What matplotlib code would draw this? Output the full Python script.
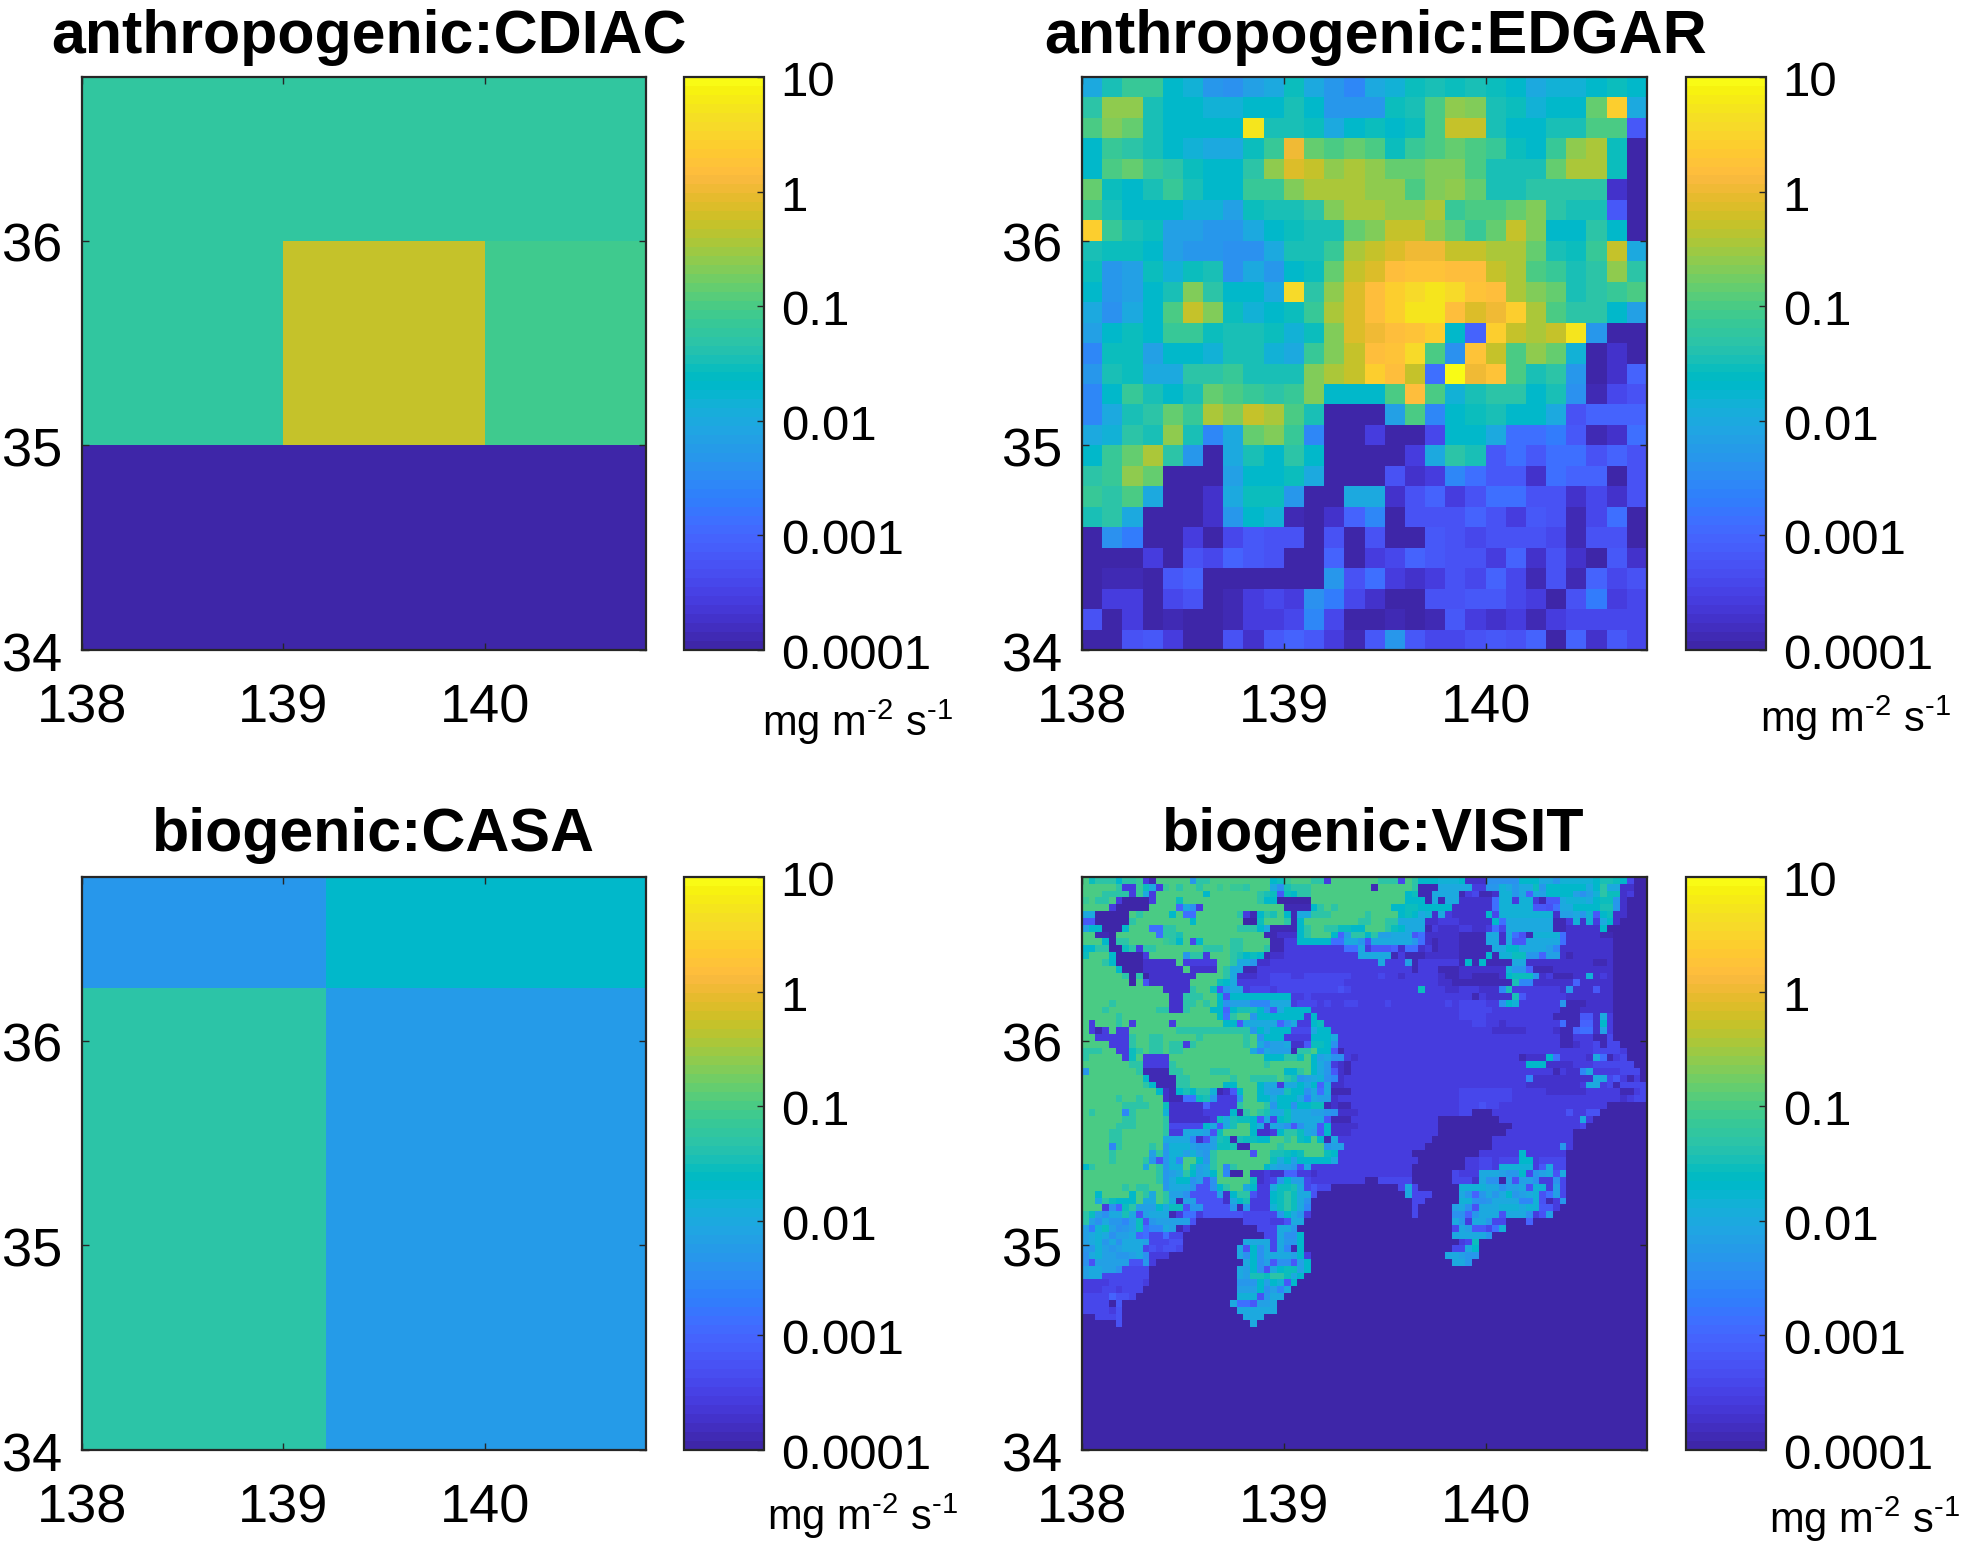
import matplotlib
matplotlib.use("Agg")
import matplotlib.pyplot as plt
import matplotlib.transforms as mtrans
import numpy as np
from matplotlib.colors import ListedColormap, LogNorm

W, H = 1961, 1545
plt.rcParams["font.family"] = ["Liberation Sans", "DejaVu Sans"]
plt.rcParams["mathtext.fontset"] = "custom"
plt.rcParams["mathtext.rm"] = "Liberation Sans"
plt.rcParams["mathtext.default"] = "regular"

# matlab parula, 64 steps
parula = [
    (0.2422, 0.1504, 0.6603), (0.2504, 0.1650, 0.7076), (0.2578, 0.1818, 0.7511), (0.2647, 0.1978, 0.7952),
    (0.2706, 0.2147, 0.8364), (0.2751, 0.2342, 0.8710), (0.2783, 0.2559, 0.8991), (0.2803, 0.2782, 0.9221),
    (0.2813, 0.3006, 0.9414), (0.2810, 0.3228, 0.9579), (0.2795, 0.3447, 0.9717), (0.2760, 0.3667, 0.9829),
    (0.2699, 0.3892, 0.9906), (0.2602, 0.4123, 0.9952), (0.2440, 0.4358, 0.9988), (0.2206, 0.4603, 0.9973),
    (0.1963, 0.4847, 0.9892), (0.1834, 0.5074, 0.9798), (0.1786, 0.5289, 0.9682), (0.1764, 0.5499, 0.9520),
    (0.1687, 0.5703, 0.9359), (0.1540, 0.5902, 0.9218), (0.1460, 0.6091, 0.9079), (0.1380, 0.6276, 0.8973),
    (0.1248, 0.6459, 0.8883), (0.1113, 0.6635, 0.8763), (0.0952, 0.6798, 0.8598), (0.0689, 0.6948, 0.8394),
    (0.0297, 0.7082, 0.8163), (0.0036, 0.7203, 0.7917), (0.0067, 0.7312, 0.7660), (0.0433, 0.7411, 0.7394),
    (0.0964, 0.7500, 0.7120), (0.1408, 0.7584, 0.6842), (0.1717, 0.7670, 0.6554), (0.1938, 0.7758, 0.6251),
    (0.2161, 0.7843, 0.5923), (0.2470, 0.7918, 0.5567), (0.2906, 0.7973, 0.5188), (0.3406, 0.8008, 0.4789),
    (0.3909, 0.8029, 0.4354), (0.4456, 0.8024, 0.3909), (0.5044, 0.7993, 0.3480), (0.5616, 0.7942, 0.3045),
    (0.6174, 0.7876, 0.2612), (0.6720, 0.7793, 0.2227), (0.7242, 0.7698, 0.1910), (0.7738, 0.7598, 0.1646),
    (0.8203, 0.7498, 0.1535), (0.8634, 0.7406, 0.1596), (0.9035, 0.7330, 0.1774), (0.9393, 0.7285, 0.2077),
    (0.9728, 0.7289, 0.2394), (0.9956, 0.7434, 0.2371), (0.9970, 0.7659, 0.2199), (0.9952, 0.7861, 0.1964),
    (0.9892, 0.8086, 0.1816), (0.9786, 0.8310, 0.1717), (0.9676, 0.8533, 0.1603), (0.9610, 0.8757, 0.1426),
    (0.9597, 0.8995, 0.1147), (0.9628, 0.9204, 0.0859), (0.9691, 0.9477, 0.0628), (0.9769, 0.9839, 0.0805),
]

tick_values = [1e-4, 1e-3, 1e-2, 1e-1, 1, 10]
tick_labels = ["0.0001", "0.001", "0.01", "0.1", "1", "10"]

# log10 flux per cell, rows from south to north
cdiac_lon = [138, 139, 140, 141]
cdiac_lat = [34, 35, 36, 37]
cdiac_log = [
    [-4.0, -4.0, -4.0],
    [-1.25, -0.3, -1.1],
    [-1.25, -1.25, -1.25],
]

casa_lon = [138, 139.21, 141]
casa_lat = [34, 36.26, 37]
casa_log = [
    [-1.3, -2.27],
    [-2.3, -1.7],
]

# EDGAR and VISIT cells as base-36 colour levels (0 = 1e-4, z = 10), north row first
edgar_rows = [
    "eikkgfcbdehecaefhihihgeffghg",
    "jooiggffggigccchilonihfggmve",
    "lnmiggggxiiheghghlqqiggiill6",
    "gkjigfeehksmlmlhklmlkhgkoph0",
    "glmkjhggjorqopommnnliiimpph0",
    "mhgikiggkknpppoolnomiijjjj20",
    "kigggffdhiijnppoopkllmnjii60",
    "vkihddcceghiimnqqomkmqnggjg0",
    "ihhgdccbbeiikpqrssqqppmihkqe",
    "hcdhfhibecghmqrtuuttqplkijoj",
    "gcdginjggewjortvwxwutpnmijkl",
    "ebeglqnhfghkprtvxxtrsvpljjgd",
    "dghgkkhiihfhnrstuvg7vqpqxc00",
    "ahhdggfiifeknqtuwlbuqlomf020",
    "ciheejjkiiinpqvtq8zsulijc027",
    "agkigimlkjknggglt" + "lfijjgib145",
    "aeijmkpnqpli000dlagh" + "igge5777",
    "efjioiaemnka003004gg" + "e8896128",
    "gkmpjc0eigjg00003eji" + "68688575",
    "jkom000dgghe000523a8" + "66287705",
    "kjle002ehhc00ee25735" + "88552425",
    "ije0002cgf1027a05557" + "53651480",
    "0b900304655050500654" + "55541550",
    "00030547650070347655" + "37252062",
    "011067000000c5832354" + "74151745",
    "03304501343b94200556" + "64305934",
    "50301001334a40010163" + "23134444",
    "005630052676316c6445" + "65707264",
]

visit_left = [
    "lhjjjgjjk31lllllcjjlllllllll",
    "lllllj33khe3kljlljllklkkjlll",
    "llljjjj3ke3lllllllglllllllji",
    "kljjl300003lllhllllllllllljg",
    "llll300000llll7eb3llllllllll",
    "ee00000ljllllgl88llllllj31gj",
    "6600000jllllllllglllllll00hl",
    "dgg000glll88jjllllllllljjjge",
    "ll110llllll8jjillllllllllll1",
    "lllg0jjlllllkjgl4glllljjllll",
    "ggjj00hj3jjllllllljjjljjlllj",
    "hlllg00003lllllcjj3llljighg1",
    "llljg000022222l33333lljeec22",
    "lllllg000222222l2222ljee1133",
    "llllllj0j02222222llllje22233",
    "lllllll0l5222222llllhge33333",
    "llllllllllll2222jllh5cee3444",
    "lllllllllllll22jjjllg5gggggg",
    "lllljllllllll22jjljlgbdddaaa",
    "llljllllllljj22jlllgg7giiigc",
    "llllljllllllllllllllg8jllcgg",
    "l3llljl3lllll3lllllllgg6eeee",
    "l313l33lllllll" + "jjjjjjjjjjj" + "cge",
    "ll33333jlljjllllljlllllljlcg",
    "llll333jlljjljj3jllllllljleb",
    "jjjll33hjljjljjlllllllllleae",
    "jlllll3hl3333llllllllllllllg",
    "llllllljj3333jlllllllllllllj",
    "clllllllj1111jjlllljjjllllll",
    "lllllllllg1111jjlllllljlljjj",
    "llllllllljg111jjlllllgglllge",
    "lllllllllllg21gigjjf126gllge",
    "llllljlljlll21188hic333cllgg",
    "lllllljjjjllh2222273333jlllj",
    "ljllllajllllf222223333g1jlji",
    "lllllljjllllj2222223heihhg6e",
    "llllljjjllllj44444ge6eillge2",
    "lllljjllllllj33eeed5hllllg22",
    "lllljjlllllleeeea25dih1ihhgg",
    "llllajlllljlcfffdccdhhi11lll",
    "lllljllllldjcffdfdcjlllll5ll",
    "lllljlllljc5cfallgcjllllllll",
    "gjllllllleljcfflhdejlajllllg",
    "llllllllllljcdejgdegla00l223",
    "llllllllllljceggbd5blllllh23",
    "lllllljljjllceeec55bgjlleg33",
    "llgllllgljeljddb5555d2gjj533",
    "llejhggglееlje1dd55552egi333".replace("е", "e"),
    "lll3b7hjdddgehh5cc5555c1c333",
    "jhdbeeie5deee13883555555" + "4444",
    "jdbeccadh5cddddd5" + "0000000" + "4444",
    "d9fhdbcdh8aaed13" + "0" * 10 + "44",
    "defebdde7844844" + "0" * 12 + "4",
    "defceb" + "eeed44455" + "0" * 9 + "eeee",
    "ccfdcdeee454554" + "0" * 8 + "e5gbe",
    "befddccdeb333" + "0" * 10 + "ebgbe",
    "b5ddddd55c3" + "0" * 13 + "egbd",
    "deeddb4444" + "0" * 13 + "edgb5",
    "dee4444444" + "0" * 13 + "ediih",
    "3333444443" + "0" * 13 + "cccgd",
    "333443444" + "0" * 14 + "dddgb",
    "44447554" + "0" * 15 + "fff5c",
    "444406" + "0" * 16 + "e886dd",
    "444435" + "0" * 17 + "eeeee",
    "004445" + "0" * 18 + "eee0",
    "000005" + "0" * 19 + "e00",
]

visit_mid = [
    "ghkllljj3llllllljjj4ljgggfff",
    "ebijjjlllllllll1lllllj111eee",
    "h6hgjjllllllllllllllgh11eeee",
    "g00000llllllllllllllggg1e1ee",
    "ll1111gjljllllllllgghhggggg2",
    "ilg1eejjjllllljllllghgef2e32",
    "llj1glllllllljjlljjeeee22333",
    "1111gjlljjhhggllljhgeee13222",
    "1222gjlllg7djjgjddeee6822222",
    "1133ggggg88eec5eeeeeec821222",
    "1133333333388e3666728823" + "1222",
    "2233333333333eeeee1311122222",
    "3333333333333333e333d1333333",
    "3333333333333333333331333111",
    "4443344444443333433233333211",
    "4444444444433333333333333221",
    "3444444444543333333333h33322",
    "ggg3343333333333333333333333",
    "eee3444343344333343333333343",
    "6egggg3333333333333333333333",
    "ggggg3g333333333333333333333",
    "e7be33gh33333333333333333333",
    "ggg444egg3333333333333333333",
    "gg3333ggge333333333333333333",
    "dde226hhgb333333333333333333",
    "ddd1jjlgg6133333333333333333",
    "ggjjhlgdebb32333333333333333",
    "llllllgec3213333333333333333",
    "llggjlgec6213333333333333333",
    "jljicdefba233333333333333333",
    "e3eegeg7e2233333333333333333",
    "ddiggbe8e1113333333333333333",
    "eggge9edd2333333333333333333",
    "cggbgghh12113333333333333333",
    "eeheeeddcb222333333333333333",
    "4gheeeee6111" + "3" * 13 + "000",
    "edb6bee6g2222" + "3" * 12 + "000",
    "3gjjhed6g222" + "3" * 13 + "000",
    "lljlhglg1e" + "3" * 14 + "0000",
    "ljllllllcdd" + "3" * 12 + "00000",
    "iihghlllhg" + "3" * 11 + "0000000",
    "hegdggggge" + "3" * 12 + "000000",
    "eddc5e3333" + "3" * 11 + "0000000",
    "2277332" + "3" * 14 + "000000" + "4",
    "4cgdd4" + "3" * 8 + "00" + "44444" + "000000" + "4",
    "ehhie4644" + "0" * 10 + "4e4000000",
    "ghjhee5" + "0" * 13 + "e4440000",
    "ghjheb" + "0" * 15 + "4400000",
    "fhjhea" + "0" * 15 + "400000d",
    "4cgec3" + "0" * 15 + "400000b",
    "335ee" + "0" * 22 + "e",
    "4eec" + "0" * 23 + "4",
    "4ebbg" + "0" * 22 + "e",
    "4eccg" + "0" * 23,
    "4ea1g" + "0" * 22 + "4",
    "eeedg3" + "0" * 20 + "ee",
    "6bb6dg" + "0" * 21 + "e",
    "eghhdg" + "0" * 22,
    "jjheg" + "0" * 23,
    "gf6g" + "0" * 24,
    "dae" + "0" * 25,
    "ee" + "0" * 26,
    "e" + "0" * 27,
    "e" + "0" * 27,
]

visit_right = [
    "g222bbbbbgggeecfffffgiihg400",
    "ee33ccfeceehcggggggegjee2200",
    "134112ffce7edggggdbdfjhh2300",
    "222228ff3ff3166efffeghhc2000",
    "222228fffff6658eeggggiic2000",
    "2222g4ffffffff2ddecf6gh22000",
    "22222g8eeeeeee113f2f3eg20000",
    "3322384eeeeeee1122222g000000",
    "1111ee2e851ffff82222211" + "00000",
    "1111ee2e66eeeee82222222" + "00000",
    "11111eeggeeeeda22222222" + "00000",
    "1111g1ffhhcc7dd21222222" + "00000",
    "1g1g1111ee2222222222112" + "00000",
    "2222222fcc7111222222222" + "00000",
    "2211112ghhhc23111" + "22f232" + "00000",
    "11111111iaa222222722222" + "00000",
    "333222ai33333332c222622" + "00000",
    "33132222i6333333" + "2222222" + "00000",
    "444433bgf333333c1112222" + "00000",
    "44444333333333311122222" + "00000",
    "44443333333333" + "1111662e3" + "00000",
    "3344332333333338" + "11772g3" + "000000",
    "333332222233332117882d3" + "00000",
    "3" * 15 + "11333114" + "00000",
    "3" * 15 + "112334144" + "0000",
    "3" * 18 + "334444" + "3000",
    "3" * 9 + "1222g83333" + "2e81" + "34000",
    "3" * 10 + "ggg2222333444444" + "00",
    "3" * 14 + "1322ae3333444" + "0",
    "3" * 10 + "a222222222ee463130",
    "3" * 10 + "222222223ee3414444",
    "4444444433333222222333331134",
    "4444444433333333333333332344",
    "444544" + "3" * 16 + "000000",
    "44000" + "3" * 11 + "53355" + "0" * 7,
    "000000" + "3" * 12 + "e3" + "0" * 8,
    "00000000" + "3" * 10 + "4" + "0" * 9,
    "0000000" + "3" * 10 + "0" * 11,
    "00000" + "3" * 12 + "0" * 11,
    "00000" + "3" * 10 + "c3" + "0" * 11,
    "000333333g333333" + "0" * 12,
    "033443444gg34444" + "0" * 12,
    "033443fffff36e44" + "0" * 12,
    "333eeedccg4cde5e" + "0" * 12,
    "442ebb0d5ddb33b4" + "0" * 12,
    "ffffeebdde5ff3d4" + "0" * 12,
    "ec7cecegcdef58d4" + "0" * 12,
    "ffbbceeeeaaf513c" + "0" * 12,
    "eb5eeefffeff663" + "0" * 13,
    "b7ceee5eeeb35d" + "0" * 14,
    "c3eec440007" + "0" * 17,
    "ed6648f" + "0" * 21,
    "eeeec" + "0" * 23,
    "34h" + "0" * 25,
    "4eg" + "0" * 25,
    "dcc" + "0" * 25,
    "ec" + "0" * 26,
]


def decode_levels(rows, n_cols, n_rows):
    out = np.zeros((n_rows, n_cols))
    for i, row in enumerate(rows):
        row = row.ljust(n_cols, "0")[:n_cols]
        out[i] = [int(c, 36) for c in row]
    # flip so index 0 is the southern row
    return -4 + 5 * out[::-1] / 35


def px_box(left, top, right, bottom):
    return [left / W, 1 - bottom / H, (right - left) / W, (bottom - top) / H]


edgar_log = decode_levels(edgar_rows, 28, 28)
visit_log = np.hstack([
    decode_levels(visit_left, 28, 84),
    decode_levels(visit_mid, 28, 84),
    decode_levels(visit_right, 28, 84),
])
edgar_lon = np.linspace(138, 140.8, 29)
edgar_lat = np.linspace(34, 36.8, 29)
visit_lon = np.linspace(138, 140.8, 85)
visit_lat = np.linspace(34, 36.8, 85)

panels = [
    ("anthropogenic:CDIAC", cdiac_lon, cdiac_lat, np.array(cdiac_log), 82, 77, 646, 650, 684, 764, 369, 38, 857, 722),
    ("anthropogenic:EDGAR", edgar_lon, edgar_lat, edgar_log, 1082, 77, 1647, 650, 1686, 1766, 1376, 38, 1855, 718),
    ("biogenic:CASA", casa_lon, casa_lat, np.array(casa_log), 82, 877, 646, 1450, 684, 764, 373, 836, 862, 1516),
    ("biogenic:VISIT", visit_lon, visit_lat, visit_log, 1082, 877, 1647, 1450, 1686, 1766, 1373, 836, 1864, 1519),
]

fig = plt.figure(figsize=(W / 100, H / 100), dpi=100)
cmap = ListedColormap(parula)
norm = LogNorm(vmin=1e-4, vmax=10)
nudge_down = mtrans.ScaledTranslation(0, -1.5 / 100, fig.dpi_scale_trans)

for title, lon, lat, log_vals, x0, y0, x1, y1, cx0, cx1, tx, ty, ux, uy in panels:
    ax = fig.add_axes(px_box(x0, y0, x1, y1))
    mesh = ax.pcolormesh(lon, lat, 10.0 ** log_vals, cmap=cmap, norm=norm, antialiased=False, linewidth=0)
    ax.set_xlim(138, 140.8)
    ax.set_ylim(34, 36.8)
    ax.set_xticks([138, 139, 140])
    ax.set_yticks([34, 35, 36])
    ax.tick_params(direction="in", top=True, right=True, length=5, width=1, color="#262626")
    ax.tick_params(axis="x", pad=24, labelsize=39)
    ax.tick_params(axis="y", pad=14, labelsize=39)
    for label in ax.get_yticklabels():
        label.set_transform(label.get_transform() + nudge_down)
    for spine in ax.spines.values():
        spine.set_linewidth(1.6)
        spine.set_color("#262626")

    cax = fig.add_axes(px_box(cx0, y0, cx1, y1))
    cb = fig.colorbar(mesh, cax=cax)
    cb.set_ticks(tick_values, labels=tick_labels)
    cb.ax.minorticks_off()
    cb.ax.tick_params(direction="in", length=5, width=1, color="#262626", labelsize=35.5, pad=12)
    for label in cb.ax.get_yticklabels():
        label.set_transform(label.get_transform() + nudge_down)
    cb.outline.set_linewidth(1.6)
    cb.outline.set_edgecolor("#262626")

    fig.text(tx / W, 1 - ty / H, title, ha="center", va="center", fontsize=43.8, fontweight="bold")
    fig.text(ux / W, 1 - uy / H, r"mg m$^{\text{-}2}$ s$^{\text{-}1}$", ha="center", va="center", fontsize=30)

fig.savefig("out.png", dpi=100)
